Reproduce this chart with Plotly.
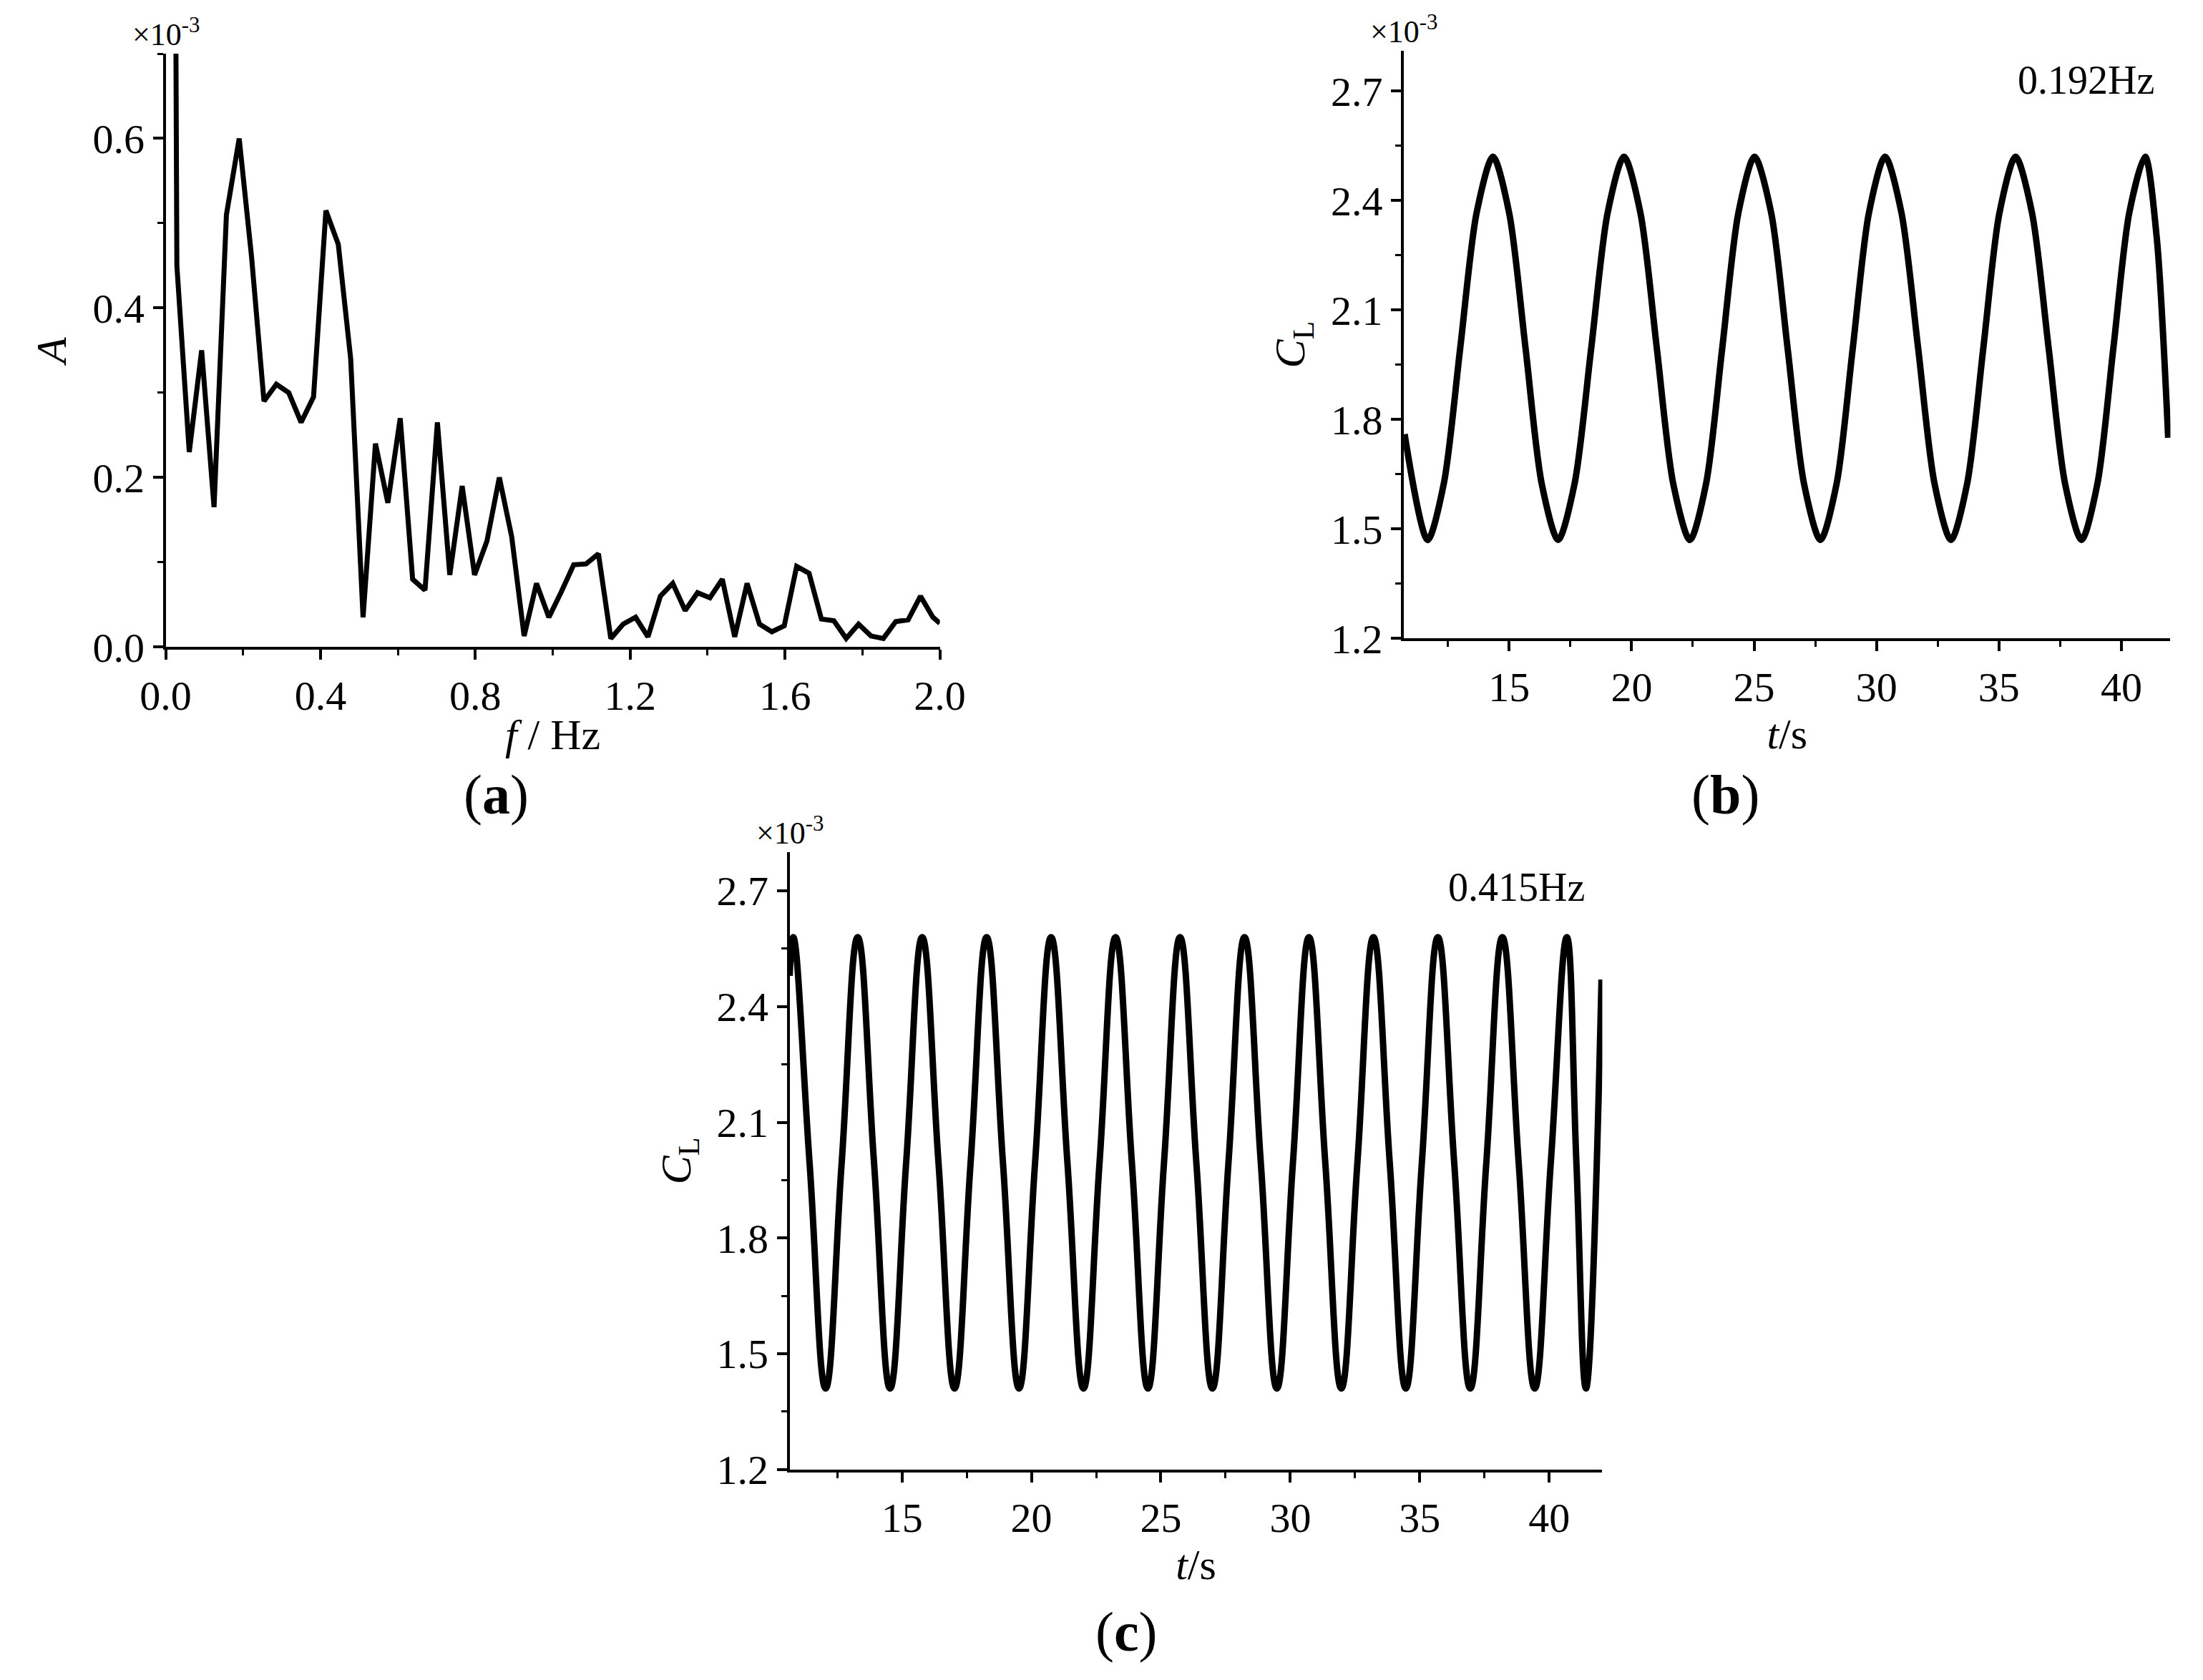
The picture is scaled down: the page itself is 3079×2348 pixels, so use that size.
import plotly.graph_objects as go

# Panel (a) spectrum
freq_a = [0.022, 0.029, 0.061, 0.093, 0.125, 0.157, 0.190, 0.222, 0.254, 0.286, 0.318, 0.350, 0.382,
          0.414, 0.446, 0.478, 0.510, 0.542, 0.574, 0.606, 0.638, 0.670, 0.702, 0.734, 0.766, 0.798,
          0.830, 0.862, 0.894, 0.926, 0.958, 0.990, 1.022, 1.054, 1.086, 1.118, 1.150, 1.182, 1.214,
          1.246, 1.278, 1.310, 1.342, 1.374, 1.406, 1.438, 1.470, 1.502, 1.534, 1.566, 1.598, 1.630,
          1.662, 1.694, 1.726, 1.758, 1.790, 1.822, 1.854, 1.886, 1.918, 1.950, 1.982, 2.000]
amp_a = [1.20, 0.45, 0.23, 0.35, 0.165, 0.51, 0.60, 0.46, 0.29, 0.31, 0.30, 0.265, 0.295,
         0.515, 0.475, 0.34, 0.035, 0.24, 0.17, 0.27, 0.08, 0.067, 0.265, 0.085, 0.19, 0.085,
         0.125, 0.20, 0.13, 0.013, 0.075, 0.035, 0.065, 0.097, 0.098, 0.11, 0.010, 0.027, 0.035,
         0.012, 0.060, 0.075, 0.043, 0.064, 0.058, 0.080, 0.012, 0.075, 0.027, 0.018, 0.025, 0.095,
         0.087, 0.033, 0.031, 0.010, 0.027, 0.013, 0.010, 0.030, 0.032, 0.060, 0.035, 0.028]

# Panel (b) lift coefficient: extrema, quarter points and mid-crossings
t_b = [10.73, 11.67, 12.33, 13.00, 13.67, 14.34, 15.00, 15.67, 16.33, 17.00, 17.67, 18.35, 19.02,
       19.69, 20.36, 21.03, 21.70, 22.38, 23.04, 23.70, 24.36, 25.02, 25.70, 26.37, 27.04, 27.71,
       28.37, 29.03, 29.69, 30.35, 31.02, 31.70, 32.37, 33.04, 33.70, 34.36, 35.02, 35.68, 36.35,
       37.03, 37.70, 38.37, 39.02, 39.67, 40.32, 40.97, 41.44, 41.91]
cl_b = [1.76, 1.47, 1.624, 1.995, 2.366, 2.52, 2.366, 1.995, 1.624, 1.47, 1.624, 1.995, 2.366,
        2.52, 2.366, 1.995, 1.624, 1.47, 1.624, 1.995, 2.366, 2.52, 2.366, 1.995, 1.624, 1.47,
        1.624, 1.995, 2.366, 2.52, 2.366, 1.995, 1.624, 1.47, 1.624, 1.995, 2.366, 2.52, 2.366,
        1.995, 1.624, 1.47, 1.624, 1.995, 2.366, 2.52, 2.30, 1.75]

# Panel (c): extrema and mid-crossings
t_c = [10.66, 10.80, 11.43, 12.05, 12.67, 13.29, 13.92, 14.54, 15.16, 15.78, 16.41, 17.03, 17.65,
       18.27, 18.90, 19.52, 20.14, 20.76, 21.39, 22.01, 22.63, 23.25, 23.88, 24.50, 25.12, 25.74,
       26.37, 26.99, 27.61, 28.23, 28.86, 29.48, 30.10, 30.72, 31.35, 31.97, 32.59, 33.21, 33.84,
       34.46, 35.08, 35.70, 36.33, 36.95, 37.57, 38.19, 38.82, 39.44, 40.06, 40.68, 41.05, 41.42, 42.02]
cl_c = [2.48, 2.58, 1.995, 1.41, 1.995, 2.58, 1.995, 1.41, 1.995, 2.58, 1.995, 1.41, 1.995,
        2.58, 1.995, 1.41, 1.995, 2.58, 1.995, 1.41, 1.995, 2.58, 1.995, 1.41, 1.995, 2.58,
        1.995, 1.41, 1.995, 2.58, 1.995, 1.41, 1.995, 2.58, 1.995, 1.41, 1.995, 2.58, 1.995,
        1.41, 1.995, 2.58, 1.995, 1.41, 1.995, 2.58, 1.995, 1.41, 1.995, 2.58, 1.995, 1.41, 2.47]

FONT = "Liberation Serif"
W, H = 3079, 2348
fig = go.Figure()
fig.add_trace(go.Scatter(x=freq_a, y=amp_a, mode="lines", line=dict(color="black", width=7),
                         xaxis="x", yaxis="y", showlegend=False))
fig.add_trace(go.Scatter(x=t_b, y=cl_b, mode="lines", line=dict(color="black", width=9, shape="spline", smoothing=0.8),
                         xaxis="x2", yaxis="y2", showlegend=False))
fig.add_trace(go.Scatter(x=t_c, y=cl_c, mode="lines", line=dict(color="black", width=9, shape="spline", smoothing=1.25),
                         xaxis="x3", yaxis="y3", showlegend=False))

def ax(domain, rng, dtick, title, anchor, minor_d, fmt, standoff, tick0):
    return dict(domain=domain, range=rng, dtick=dtick, tick0=tick0, anchor=anchor, showgrid=False, zeroline=False,
                showline=True, linecolor="black", linewidth=4, ticks="outside", ticklen=14, tickwidth=4,
                tickcolor="black", tickformat=fmt,
                minor=dict(dtick=minor_d, ticks="outside", ticklen=8, tickwidth=3, tickcolor="black"),
                tickfont=dict(family=FONT, size=58, color="black"),
                title=dict(text=title, font=dict(family=FONT, size=60, color="black"), standoff=standoff))

xa = [192/W, 1300/W]; ya = [1-909/H, 1-68/H]
xb = [1964/W, 3061/W]; yb = [1-897/H, 1-64/H]
xc = [1085/W, 2248/W]; yc = [1-2075/H, 1-1200/H]

fig.update_layout(
    width=W, height=H, margin=dict(l=0, r=0, t=0, b=0),
    paper_bgcolor="white", plot_bgcolor="white",
    xaxis=ax(xa, [0, 2.0], 0.4, "<i>f</i> / Hz", "y", 0.2, ".1f", 2, 0),
    yaxis=ax(ya, [0, 0.7], 0.2, "<i>A</i>", "x", 0.1, ".1f", 18, 0),
    xaxis2=ax(xb, [10.7, 42.0], 5, "<i>t</i>/s", "y2", 2.5, "d", 6, 0),
    yaxis2=ax(yb, [1.2, 2.81], 0.3, "<i>C</i><sub>L</sub>", "x2", 0.15, ".1f", 18, 1.2),
    xaxis3=ax(xc, [10.66, 42.05], 5, "<i>t</i>/s", "y3", 2.5, "d", 6, 0),
    yaxis3=ax(yc, [1.2, 2.80], 0.3, "<i>C</i><sub>L</sub>", "x3", 0.15, ".1f", 18, 1.2),
)

ann = []
for xd, yd in [(xa, ya), (xb, yb), (xc, yc)]:
    ann.append(dict(x=xd[0], y=yd[1], xref="paper", yref="paper", xanchor="center", yanchor="bottom",
                    text="×10<sup>-3</sup>", showarrow=False, font=dict(family=FONT, size=44, color="black")))
ann.append(dict(x=3040/W, y=1-105/H, xref="paper", yref="paper", xanchor="right", yanchor="middle",
                text="0.192Hz", showarrow=False, font=dict(family=FONT, size=56, color="black")))
ann.append(dict(x=2225/W, y=1-1250/H, xref="paper", yref="paper", xanchor="right", yanchor="middle",
                text="0.415Hz", showarrow=False, font=dict(family=FONT, size=56, color="black")))
for lbl, px, py in [("a", 665, 1118), ("b", 2424, 1118), ("c", 1567, 2305)]:
    ann.append(dict(x=px/W, y=1-py/H, xref="paper", yref="paper", xanchor="center", yanchor="middle",
                    text="(<b>%s</b>)" % lbl, showarrow=False, font=dict(family=FONT, size=78, color="black")))
fig.update_layout(annotations=ann)
fig.write_html("out.html")
